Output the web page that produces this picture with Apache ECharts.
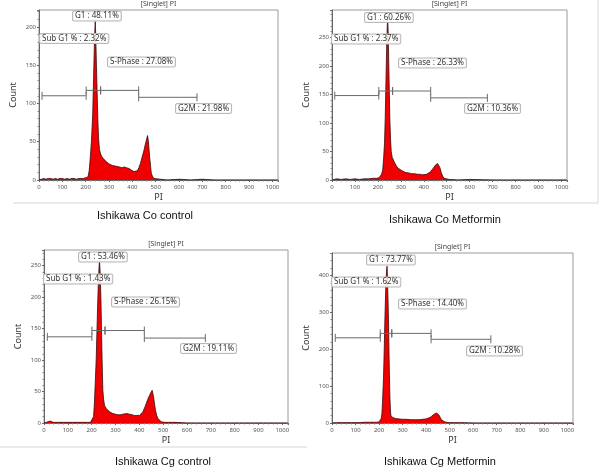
<!DOCTYPE html>
<html><head><meta charset="utf-8">
<script src="https://cdn.jsdelivr.net/npm/echarts@6/dist/echarts.min.js"></script>
<style>html,body{margin:0;padding:0;background:#fff}#c{width:601px;height:469px}</style>
</head><body><div id="c"></div>
<script>
// ---- data: [PI channel, count] ----
const histCoControl = [[0,0],[10,1],[20,2],[30,1],[40,2],[50,2],[60,1],[70,2],[80,1],[90,2],[100,2],[110,1],[120,2],[130,1],[140,2],[150,2],[160,1],[170,2],[180,2],[190,2],[200,3],[205,3],[210,4],[215,12],[220,30],[225,52],[230,85],[234,135],[238,185],[241,207],[243,190],[246,150],[249,115],[252,80],[255,55],[259,40],[264,34],[270,30],[278,27],[288,24],[295,22],[300,21],[308,20],[315,19],[322,18],[330,18],[336,17],[345,17],[355,16],[365,17],[375,16],[386,15],[395,13],[402,11],[407,11],[414,11],[421,12],[428,16],[435,22],[442,30],[450,39],[455,46],[460,52],[465,58],[469,50],[474,30],[478,18],[481,9],[486,5],[492,2],[500,1],[520,1],[550,0],[600,1],[650,0],[700,1],[750,0],[800,0],[900,0],[1023,0]];
const histCoMetformin = [[0,0],[10,1],[20,2],[40,1],[60,2],[80,1],[100,2],[120,1],[140,2],[160,2],[180,3],[195,3],[205,4],[212,5],[216,10],[221,18],[225,38],[229,66],[232,110],[235,170],[238,230],[241,272],[243,282],[245,255],[247,212],[250,150],[252,108],[255,72],[258,50],[262,40],[266,37],[272,31],[280,25],[287,21],[295,18],[302,17],[309,15],[316,14],[325,13],[338,12],[348,11],[360,11],[374,10],[385,10],[395,9],[403,9],[412,10],[420,11],[428,14],[435,17],[442,21],[448,25],[454,27],[460,29],[465,28],[470,22],[476,13],[482,7],[488,3],[495,1],[510,1],[550,0],[600,1],[700,0],[800,0],[900,0],[1023,0]];
const histCgControl = [[0,0],[10,1],[18,2],[25,3],[32,2],[40,1],[60,1],[80,1],[100,1],[120,1],[140,1],[160,1],[180,1],[195,1],[203,2],[208,10],[212,35],[215,63],[219,100],[222,143],[225,185],[228,222],[231,248],[233,257],[235,245],[237,222],[239,196],[241,155],[243,116],[245,80],[247,52],[250,38],[254,28],[261,23],[268,20],[275,18],[282,16],[289,15],[300,14],[310,13],[320,13],[330,14],[338,15],[348,15],[359,14],[370,13],[380,12],[390,12],[401,12],[408,14],[415,18],[422,24],[429,31],[436,38],[443,44],[448,48],[454,52],[457,50],[460,41],[464,30],[468,20],[473,12],[478,7],[485,4],[492,2],[505,1],[550,1],[600,0],[700,0],[800,0],[900,0],[1023,0]];
const histCgMetformin = [[0,0],[20,1],[50,1],[80,1],[110,1],[140,2],[170,2],[190,2],[200,3],[205,5],[209,12],[212,25],[215,60],[219,125],[222,200],[225,288],[229,379],[232,415],[234,425],[236,390],[237,361],[240,280],[242,198],[244,130],[246,71],[248,40],[250,21],[253,17],[257,15],[264,13],[271,12],[285,11],[299,10],[315,10],[335,9],[350,9],[370,9],[385,10],[398,11],[408,13],[419,16],[427,20],[434,24],[440,26],[445,27],[450,25],[455,21],[460,15],[465,9],[470,6],[476,4],[485,2],[500,1],[550,1],[600,0],[700,0],[800,0],[900,0],[1023,0]];

// gates: [start, end, count level]
const gatesCoControl = [[13,202,110],[202,264,117],[264,427,117],[427,677,108]];
const gatesCoMetformin = [[12,204,148],[204,264,156],[264,430,156],[430,677,144]];
const gatesCgControl = [[14,201,137],[201,256,147],[256,421,147],[421,677,135]];
const gatesCgMetformin = [[14,205,231],[205,254,243],[254,421,243],[421,675,227]];

const captions = ['Ishikawa Co control','Ishikawa Co Metformin','Ishikawa Cg control','Ishikawa Cg Metformin'];
const labelsCoControl = ['G1 : 48.11%','Sub G1 % : 2.32%','S-Phase : 27.08%','G2M : 21.98%'];
const labelsCoMetformin = ['G1 : 60.26%','Sub G1 % : 2.37%','S-Phase : 26.33%','G2M : 10.36%'];
const labelsCgControl = ['G1 : 53.46%','Sub G1 % : 1.43%','S-Phase : 26.15%','G2M : 19.11%'];
const labelsCgMetformin = ['G1 : 73.77%','Sub G1 % : 1.62%','S-Phase : 14.40%','G2M : 10.28%'];
const yMax = [222, 298, 275, 461];
const yInterval = [50, 50, 50, 100];
const xMax = 1024;

// ---- layout ----
const grids = [
  {left:39, top:10, width:239, height:170},
  {left:332, top:10, width:235, height:170},
  {left:44, top:250, width:244, height:173},
  {left:332, top:253, width:241, height:170}
];
const labelPos = [
  [[73,16],[40,38.5],[108,62],[176,108.5]],
  [[365,17.5],[332,39],[399,63],[465,108.5]],
  [[79,257],[44,279],[112,302],[181,348.5]],
  [[367,260],[332,282],[399,304],[467,351]]
];
const captionPos = [[145,216],[445,220],[163,462],[440,462]];
const hists = [histCoControl, histCoMetformin, histCgControl, histCgMetformin];
const gates = [gatesCoControl, gatesCoMetformin, gatesCgControl, gatesCgMetformin];
const labels = [labelsCoControl, labelsCoMetformin, labelsCgControl, labelsCgMetformin];

const chart = echarts.init(document.getElementById('c'));
const xAxes = [], yAxes = [], series = [], graphics = [];
grids.forEach((g, i) => {
  xAxes.push({
    gridIndex:i, type:'value', min:0, max:xMax, interval:100,
    name:'PI', nameLocation:'middle', nameGap:13,
    nameTextStyle:{fontSize:9, color:'#333', fontFamily:'Noto Sans'},
    axisLine:{lineStyle:{color:'#666', width:1}},
    axisTick:{show:true, length:2, lineStyle:{color:'#666'}},
    minorTick:{show:true, splitNumber:5, length:1.5, lineStyle:{color:'#888'}},
    axisLabel:{fontSize:6, color:'#555', margin:4, showMaxLabel:false, fontFamily:'Noto Sans', formatter:v => String(v)},
    splitLine:{show:false}
  });
  yAxes.push({
    gridIndex:i, type:'value', min:0, max:yMax[i], interval:yInterval[i],
    name:'Count', nameLocation:'middle', nameGap:21,
    nameTextStyle:{fontSize:9, color:'#333', fontFamily:'Noto Sans'},
    axisLine:{show:true, lineStyle:{color:'#666', width:1}},
    axisTick:{show:true, length:2, lineStyle:{color:'#666'}},
    minorTick:{show:true, splitNumber:5, length:1.5, lineStyle:{color:'#888'}},
    axisLabel:{fontSize:6, color:'#555', margin:3, showMaxLabel:false, fontFamily:'Noto Sans', formatter:v => String(v)},
    splitLine:{show:false}
  });
  series.push({
    type:'line', xAxisIndex:i, yAxisIndex:i, data:hists[i], showSymbol:false, symbol:'none',
    lineStyle:{color:'#3a0a0a', width:0.8}, areaStyle:{color:'#f00000', opacity:1},
    z:2, animation:false
  });
  series.push({
    type:'custom', xAxisIndex:i, yAxisIndex:i, data:gates[i], clip:false, z:5, animation:false,
    encode:{x:[0,1], y:2},
    renderItem:(params, api) => {
      const s = api.coord([api.value(0), api.value(2)]);
      const e = api.coord([api.value(1), api.value(2)]);
      const st = {stroke:'#6a6a6a', lineWidth:1};
      return {type:'group', children:[
        {type:'line', shape:{x1:s[0], y1:s[1], x2:e[0], y2:e[1]}, style:st},
        {type:'line', shape:{x1:s[0], y1:s[1]-4, x2:s[0], y2:s[1]+4}, style:st},
        {type:'line', shape:{x1:e[0], y1:e[1]-4, x2:e[0], y2:e[1]+4}, style:st}
      ]};
    }
  });
  graphics.push({type:'text', x:g.left + g.width/2, y:g.top - 6, z:10,
    style:{text:'[Singlet] PI', fontSize:7, fill:'#444', align:'center', verticalAlign:'middle', fontFamily:'Noto Sans'}});
  labels[i].forEach((t, k) => {
    graphics.push({type:'text', x:labelPos[i][k][0], y:labelPos[i][k][1], z:20,
      style:{text:t, fontSize:8, fill:'#333', align:'left', verticalAlign:'middle', fontFamily:'Noto Sans',
        backgroundColor:'rgba(255,255,255,0.85)', borderColor:'#b8b8b8', borderWidth:1, borderRadius:1.5, padding:[1,2,0,2]}});
  });
  graphics.push({type:'text', x:captionPos[i][0], y:captionPos[i][1], z:10,
    style:{text:captions[i], fontSize:11, fill:'#111', align:'center', verticalAlign:'middle', fontFamily:'Liberation Sans'}});
});
// faint frame lines of the pasted images
[[13,203,300,203],[300,203,598,203],[598,0,598,203],[0,447,300,447],[300,447,307,447]].forEach(l => {
  graphics.push({type:'line', shape:{x1:l[0], y1:l[1], x2:l[2], y2:l[3]}, style:{stroke:'#d6d6d6', lineWidth:1}, z:1});
});

chart.setOption({
  animation:false,
  grid: grids.map(g => Object.assign({show:true, borderColor:'#9a9a9a', borderWidth:1, containLabel:false}, g)),
  xAxis: xAxes, yAxis: yAxes, series: series, graphic: graphics
});
</script></body></html>
